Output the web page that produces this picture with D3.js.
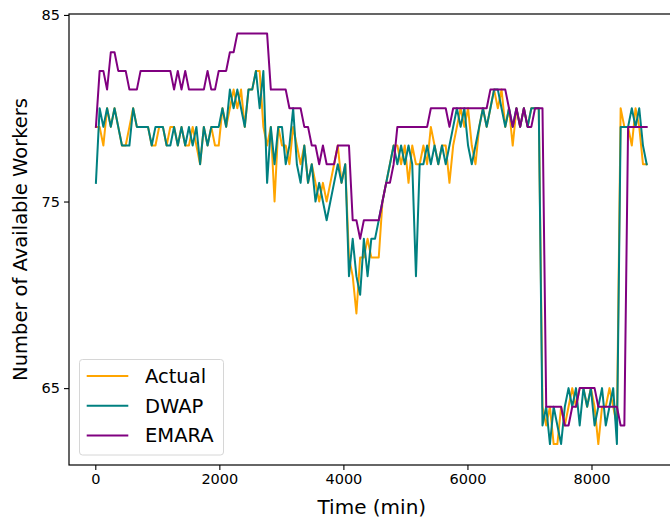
<!DOCTYPE html>
<html>
<head>
<meta charset="utf-8">
<script src="https://cdn.jsdelivr.net/npm/d3@7"></script>
<style>
  html, body { margin: 0; padding: 0; background: #fff; }
  svg { display: block; font-family: "DejaVu Sans", sans-serif; }
</style>
</head>
<body>
<svg id="chart" width="670" height="519"></svg>
<script>
// ---- data (sampled every 60 min, starting at t = 10 min) ----
const startTime = 10;
const stepMinutes = 60;

const actual = [
  79, 79, 78, 80, 79, 80, 79, 78, 78, 79,
  80, 79, 79, 79, 79, 78, 78, 79, 79, 78,
  79, 79, 78, 79, 78, 78, 79, 78, 77, 79,
  78, 79, 78, 78, 80, 79, 80, 81, 80, 81,
  79, 81, 81, 82, 82, 79, 78, 79, 75, 79,
  78, 78, 77, 79, 78, 77, 78, 76, 77, 76,
  75, 76, 75, 76, 77, 78, 76, 77, 72, 71,
  69, 72, 72, 73, 72, 72, 72, 75, 76, 77,
  78, 78, 77, 78, 76, 78, 77, 77, 78, 77,
  79, 78, 77, 78, 78, 76, 78, 79, 80, 79,
  80, 78, 77, 79, 80, 79, 80, 81, 80, 81,
  79, 80, 78, 80, 79, 80, 79, 80, 80, 80,
  64, 63, 64, 62, 62, 64, 63, 64, 65, 64,
  65, 65, 64, 65, 64, 62, 64, 64, 65, 64,
  63, 80, 79, 79, 78, 80, 79, 77, 77
];

const dwap = [
  76, 80, 79, 80, 79, 80, 79, 78, 78, 78,
  80, 79, 79, 79, 79, 78, 79, 79, 79, 78,
  78, 79, 78, 79, 78, 79, 78, 79, 77, 79,
  78, 79, 79, 79, 80, 79, 81, 80, 81, 80,
  79, 81, 81, 82, 80, 82, 76, 79, 77, 79,
  79, 77, 78, 80, 77, 76, 78, 76, 77, 75,
  76, 75, 74, 75, 76, 77, 76, 77, 71, 73,
  71, 70, 73, 71, 73, 73, 74, 75, 76, 77,
  78, 77, 78, 77, 78, 77, 71, 77, 77, 78,
  77, 78, 77, 78, 77, 78, 79, 80, 79, 80,
  78, 77, 78, 79, 80, 79, 80, 81, 81, 80,
  79, 80, 79, 80, 79, 80, 79, 80, 80, 80,
  63, 64, 62, 64, 63, 62, 64, 65, 64, 65,
  63, 65, 64, 65, 63, 64, 65, 63, 64, 65,
  62, 79, 79, 79, 80, 79, 80, 78, 77
];

const emara = [
  79, 82, 82, 81, 83, 83, 82, 82, 82, 81,
  81, 81, 82, 82, 82, 82, 82, 82, 82, 82,
  82, 81, 82, 81, 82, 81, 81, 81, 81, 81,
  82, 81, 81, 82, 82, 82, 83, 83, 84, 84,
  84, 84, 84, 84, 84, 84, 84, 81, 81, 81,
  81, 81, 80, 80, 80, 80, 79, 79, 78, 78,
  77, 78, 77, 77, 77, 78, 78, 78, 78, 74,
  74, 73, 74, 74, 74, 74, 74, 75, 76, 76,
  77, 79, 79, 79, 79, 79, 79, 79, 79, 79,
  80, 80, 80, 80, 80, 79, 80, 80, 80, 80,
  80, 80, 80, 80, 80, 80, 81, 81, 81, 81,
  81, 80, 79, 80, 79, 80, 79, 79, 80, 80,
  80, 64, 64, 64, 64, 64, 63, 63, 64, 64,
  65, 65, 65, 65, 65, 64, 64, 64, 64, 64,
  64, 63, 63, 79, 79, 79, 79, 79, 79
];

const times = d3.range(actual.length).map(i => startTime + stepMinutes * i);

const seriesNames = ["Actual", "DWAP", "EMARA"];
const seriesValues = [actual, dwap, emara];
const seriesColors = ["#FFA500", "#008080", "#800080"];

const xTicks = [0, 2000, 4000, 6000, 8000];
const yTicks = [65, 75, 85];
const xLabel = "Time (min)";
const yLabel = "Number of Available Workers";

// ---- layout ----
const svg = d3.select("#chart");
const plot = { left: 69, top: 14, right: 674.6, bottom: 465 };

const x = d3.scaleLinear().domain([-424, 9340]).range([plot.left, plot.right]);
const y = d3.scaleLinear().domain([60.88, 85.05]).range([plot.bottom, plot.top]);

// lines
const line = d3.line()
  .x((d, i) => x(times[i]))
  .y(d => y(d));

seriesValues.forEach((vals, k) => {
  svg.append("path")
    .datum(vals)
    .attr("d", line)
    .attr("fill", "none")
    .attr("stroke", seriesColors[k])
    .attr("stroke-width", 2)
    .attr("stroke-linejoin", "round")
    .attr("stroke-linecap", "square");
});

// axes
const xAxis = svg.append("g")
  .attr("transform", `translate(0,${plot.bottom})`)
  .call(d3.axisBottom(x).tickValues(xTicks).tickFormat(d3.format("d")).tickSize(5).tickPadding(4));
const yAxis = svg.append("g")
  .attr("transform", `translate(${plot.left},0)`)
  .call(d3.axisLeft(y).tickValues(yTicks).tickFormat(d3.format("d")).tickSize(5).tickPadding(4));

[xAxis, yAxis].forEach(g => {
  g.select(".domain").remove();
  g.selectAll(".tick line").attr("stroke", "#000").attr("stroke-width", 1.1);
  g.selectAll(".tick text").attr("fill", "#000").style("font-size", "14.5px")
    .style("font-family", "'DejaVu Sans', sans-serif");
});

// spines
svg.append("rect")
  .attr("x", plot.left).attr("y", plot.top)
  .attr("width", plot.right - plot.left).attr("height", plot.bottom - plot.top)
  .attr("fill", "none").attr("stroke", "#000").attr("stroke-width", 1.2);

// axis labels
svg.append("text")
  .attr("x", (plot.left + plot.right) / 2)
  .attr("y", 514)
  .attr("text-anchor", "middle")
  .style("font-size", "20px")
  .text(xLabel);

svg.append("text")
  .attr("transform", `translate(27,${(plot.top + plot.bottom) / 2}) rotate(-90)`)
  .attr("text-anchor", "middle")
  .style("font-size", "19.5px")
  .text(yLabel);

// legend
const legend = svg.append("g");
legend.append("rect")
  .attr("x", 79.5).attr("y", 359.5)
  .attr("width", 144).attr("height", 95.5)
  .attr("rx", 3).attr("ry", 3)
  .attr("fill", "#fff").attr("fill-opacity", 0.8)
  .attr("stroke", "#d6d6d6").attr("stroke-width", 1);

seriesNames.forEach((name, k) => {
  const cy = 376 + k * 29.7;
  legend.append("line")
    .attr("x1", 86.7).attr("x2", 128.3)
    .attr("y1", cy).attr("y2", cy)
    .attr("stroke", seriesColors[k]).attr("stroke-width", 2);
  legend.append("text")
    .attr("x", 145).attr("y", cy + 7)
    .style("font-size", "19.5px")
    .text(name);
});
</script>
</body>
</html>
